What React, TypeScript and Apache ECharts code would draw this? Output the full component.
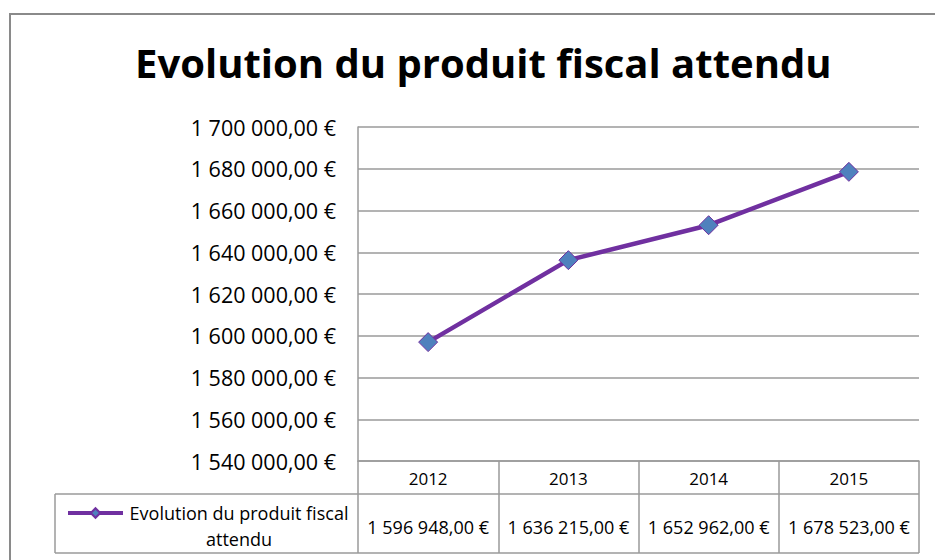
import React, { useEffect, useRef } from "react";
import * as echarts from "echarts";

const years = ["2012", "2013", "2014", "2015"];
const values = [1596948, 1636215, 1652962, 1678523];
const seriesName = "Evolution du produit fiscal attendu";
const legendLines = ["Evolution du produit fiscal", "attendu"];
const titleText = "Evolution du produit fiscal attendu";
const yMin = 1540000;
const yMax = 1700000;
const yStep = 20000;

const FONT = "'Open Sans', Lato, sans-serif";
const GRID_COLOR = "#9a9a9a";

function fmtEuro(v: number): string {
  const [i, d] = v.toFixed(2).split(".");
  const intPart = i.replace(/\B(?=(\d{3})+(?!\d))/g, " ");
  return `${intPart},${d} €`;
}

export default function App() {
  const ref = useRef<HTMLDivElement>(null);
  useEffect(() => {
    if (!ref.current) return;
    const chart = echarts.init(ref.current, undefined, { renderer: "svg" });
    chart.setOption({
      animation: false,
      backgroundColor: "#ffffff",
      title: {
        text: titleText,
        left: 135,
        top: 42,
        padding: 0,
        textStyle: { fontFamily: FONT, fontWeight: "bold", fontSize: 40, color: "#000" },
      },
      legend: {
        left: 61,
        top: 469,
        itemWidth: 55,
        itemHeight: 12,
        itemGap: 0,
        data: [seriesName],
        lineStyle: { width: 4, color: "#7030A0" },
        formatter: () => legendLines.map((l) => `{c|${l}}`).join("\n"),
        textStyle: {
          fontFamily: FONT,
          fontSize: 18,
          color: "#000",
          lineHeight: 26,
          width: 222,
          padding: [26, 0, 0, 0],
          rich: { c: { align: "center", fontFamily: FONT, fontSize: 18, lineHeight: 26, color: "#000" } },
        },
      },
      grid: { left: 358, top: 127, right: 16, bottom: 99, containLabel: false },
      xAxis: [
        {
          type: "category",
          data: years,
          boundaryGap: true,
          position: "bottom",
          axisLine: { show: true, lineStyle: { color: GRID_COLOR, width: 1.5 } },
          axisTick: { show: true, inside: false, length: 92, lineStyle: { color: GRID_COLOR, width: 1.5 } },
          axisLabel: { interval: 0, hideOverlap: false, margin: 9, fontFamily: FONT, fontSize: 17, color: "#000" },
          splitLine: { show: false },
        },
        {
          type: "category",
          data: years,
          boundaryGap: true,
          position: "bottom",
          offset: 33,
          axisLine: { show: false },
          axisTick: { show: false },
          axisLabel: {
            interval: 0,
            hideOverlap: false,
            margin: 24,
            fontFamily: FONT,
            fontSize: 18,
            color: "#000",
            formatter: (_v: string, idx: number) => fmtEuro(values[idx]),
          },
          splitLine: { show: false },
        },
      ],
      yAxis: {
        type: "value",
        min: yMin,
        max: yMax,
        interval: yStep,
        axisLine: { show: true, lineStyle: { color: GRID_COLOR, width: 1.5 } },
        axisTick: { show: false },
        splitLine: { show: true, lineStyle: { color: GRID_COLOR, width: 1.5 } },
        axisLabel: {
          margin: 22,
          fontFamily: FONT,
          fontSize: 21.5,
          color: "#000",
          formatter: (v: number) => fmtEuro(v),
        },
      },
      series: [
        {
          name: seriesName,
          type: "line",
          xAxisIndex: 0,
          data: values,
          symbol: "diamond",
          symbolSize: 19,
          lineStyle: { color: "#7030A0", width: 4.5 },
          itemStyle: { color: "#4F81BD", borderColor: "#7030A0", borderWidth: 1 },
          emphasis: { disabled: true },
        },
      ],
      graphic: [
        {
          type: "rect",
          silent: true,
          shape: { x: 10, y: 14, width: 1000, height: 600 },
          style: { fill: "none", stroke: "#8a8a8a", lineWidth: 2 },
        },
        {
          type: "line",
          silent: true,
          shape: { x1: 55, y1: 494, x2: 919, y2: 494 },
          style: { stroke: GRID_COLOR, lineWidth: 1.5 },
        },
        {
          type: "line",
          silent: true,
          shape: { x1: 55, y1: 553, x2: 919, y2: 553 },
          style: { stroke: GRID_COLOR, lineWidth: 1.5 },
        },
        {
          type: "line",
          silent: true,
          shape: { x1: 55, y1: 494, x2: 55, y2: 553 },
          style: { stroke: GRID_COLOR, lineWidth: 1.5 },
        },
      ],
    });
    return () => chart.dispose();
  }, []);
  return <div ref={ref} style={{ position: "fixed", left: 0, top: 0, width: 935, height: 560 }} />;
}
